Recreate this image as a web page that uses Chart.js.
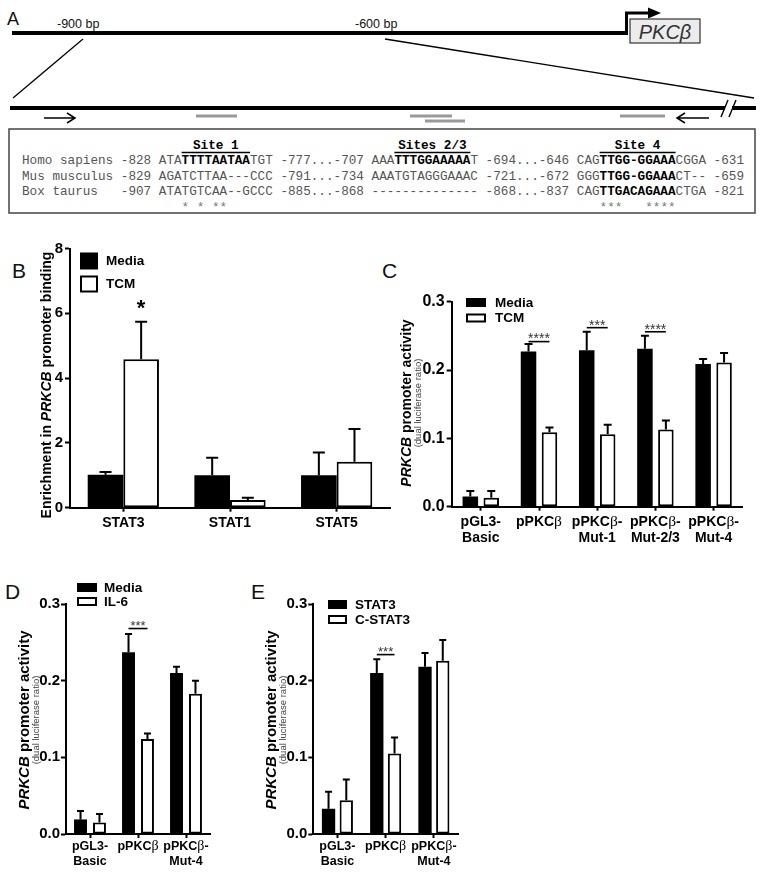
<!DOCTYPE html>
<html>
<head>
<meta charset="utf-8">
<script src="https://cdn.jsdelivr.net/npm/chart.js@4.4.1/dist/chart.umd.min.js"></script>
<style>
  body { margin: 0; background: #fff; }
  #fig { position: relative; width: 764px; height: 872px; overflow: hidden; font-family: 'Liberation Sans', Arial, sans-serif; }
  canvas { position: absolute; }
  .letter { position: absolute; font-size: 21px; line-height: 1; color: #111; }
</style>
</head>
<body>
<div id="fig">
  <svg id="panelA" width="764" height="222" style="position:absolute;left:0;top:0" xmlns="http://www.w3.org/2000/svg" font-family="'Liberation Sans', Arial, sans-serif">
    <text x="7" y="25" font-size="18" fill="#111">A</text>
    <line x1="12" y1="33" x2="628" y2="33" stroke="#000" stroke-width="4"/>
    <text x="57" y="28" font-size="12.5" fill="#111">-900 bp</text>
    <text x="355" y="28" font-size="12.5" fill="#111">-600 bp</text>
    <path d="M626.5,35 V13 H650" fill="none" stroke="#000" stroke-width="3"/>
    <polygon points="648,7.5 661,13 648,18.5" fill="#000"/>
    <rect x="630" y="19" width="70" height="24" fill="#ececec" stroke="#333" stroke-width="1.2"/>
    <text x="665" y="38.5" font-size="20" font-style="italic" text-anchor="middle" fill="#333">PKCβ</text>
    <line x1="83" y1="39" x2="13" y2="98" stroke="#000" stroke-width="1.3"/>
    <line x1="385" y1="39" x2="754" y2="98" stroke="#000" stroke-width="1.3"/>
    <line x1="10" y1="108" x2="725" y2="108" stroke="#000" stroke-width="4"/>
    <line x1="732" y1="108" x2="756" y2="108" stroke="#000" stroke-width="4"/>
    <line x1="721" y1="117" x2="728" y2="100" stroke="#000" stroke-width="1.4"/>
    <line x1="729" y1="117" x2="736" y2="100" stroke="#000" stroke-width="1.4"/>
    <!-- primer arrows -->
    <path d="M44,118 H75 M67,113 L75,118 L67,123" fill="none" stroke="#000" stroke-width="1.5"/>
    <path d="M709,118 H677 M685,113 L677,118 L685,123" fill="none" stroke="#000" stroke-width="1.5"/>
    <!-- binding sites -->
    <line x1="196" y1="116" x2="237" y2="116" stroke="#999" stroke-width="3"/>
    <line x1="410" y1="116" x2="452" y2="116" stroke="#999" stroke-width="3"/>
    <line x1="425" y1="121" x2="465" y2="121" stroke="#999" stroke-width="3"/>
    <line x1="620" y1="116" x2="665" y2="116" stroke="#999" stroke-width="3"/>
    <rect x="9" y="129" width="746" height="84" fill="none" stroke="#444" stroke-width="1.5"/>
    <g id="seqText" font-family="'Liberation Mono', monospace" font-size="12.67"></g>
  </svg>

  <div class="letter" style="left:12px;top:260px">B</div>
  <div class="letter" style="left:382px;top:260px">C</div>
  <div class="letter" style="left:5px;top:581px">D</div>
  <div class="letter" style="left:251px;top:581px">E</div>

  <canvas id="chartB" width="400" height="330" style="left:0px;top:235px;width:400px;height:330px"></canvas>
  <canvas id="chartC" width="384" height="275" style="left:380px;top:285px;width:384px;height:275px"></canvas>
  <canvas id="chartD" width="240" height="297" style="left:0px;top:575px;width:240px;height:297px"></canvas>
  <canvas id="chartE" width="230" height="297" style="left:250px;top:575px;width:230px;height:297px"></canvas>
</div>

<script>
// --- Panel A sequence alignment ---
const seqRows = [
    'Homo sapiens -828 ATA[TTTTAATAA]TGT -777...-707 AAA[TTTGGAAAAA]T -694...-646 CAG[TTGG-GGAAA]CGGA -631',
    'Mus musculus -829 AGATCTTAA---CCC -791...-734 AAATGTAGGGAAAC -721...-672 GGG[TTGG-GGAAA]CT-- -659',
    'Box taurus   -907 ATATGTCAA--GCCC -885...-868 -------------- -868...-837 CAG[TTGACAGAAA]CTGA -821'
];
const seqStars = ' '.repeat(21) + '* * **' + ' '.repeat(49) + '***   ****';
const siteNames = ['Site 1', 'Sites 2/3', 'Site 4'];
const siteCols = [[21, 30], [49, 59], [76, 86]];

// --- Panel B: ChIP enrichment ---
const bCategories = ['STAT3', 'STAT1', 'STAT5'];
const bMedia = [1.02, 1.0, 1.0];
const bMediaErr = [0.08, 0.54, 0.70];
const bTCM = [4.58, 0.24, 1.42];
const bTCMErr = [1.16, 0.07, 1.01];

// --- Panel C: promoter mutants, Media vs TCM ---
const cCategories = [['pGL3-', 'Basic'], ['pPKCβ'], ['pPKCβ-', 'Mut-1'], ['pPKCβ-', 'Mut-2/3'], ['pPKCβ-', 'Mut-4']];
const cMedia = [0.015, 0.227, 0.229, 0.231, 0.209];
const cMediaErr = [0.008, 0.011, 0.027, 0.019, 0.007];
const cTCM = [0.013, 0.109, 0.106, 0.113, 0.211];
const cTCMErr = [0.010, 0.007, 0.014, 0.013, 0.014];
const cSigAt = [1, 2, 3];
const cSigY = [0.2416, 0.262, 0.256];
const cSigMarks = ['****', '***', '****'];

// --- Panel D: Media vs IL-6 ---
const dCategories = [['pGL3-', 'Basic'], ['pPKCβ'], ['pPKCβ-', 'Mut-4']];
const dMedia = [0.019, 0.237, 0.210];
const dMediaErr = [0.011, 0.024, 0.008];
const dIL6 = [0.015, 0.124, 0.183];
const dIL6Err = [0.011, 0.007, 0.017];
const dSigAt = [1];
const dSigY = [0.268];
const dSigMarks = ['***'];

// --- Panel E: STAT3 vs C-STAT3 ---
const eCategories = [['pGL3-', 'Basic'], ['pPKCβ'], ['pPKCβ-', 'Mut-4']];
const eSTAT3 = [0.033, 0.210, 0.218];
const eSTAT3Err = [0.022, 0.018, 0.018];
const eCSTAT3 = [0.044, 0.105, 0.226];
const eCSTAT3Err = [0.027, 0.021, 0.027];
const eSigAt = [1];
const eSigY = [0.234];
const eSigMarks = ['***'];

const SANS = "'Liberation Sans', Arial, sans-serif";
const SERIF = "'Liberation Serif', 'Times New Roman', serif";

// ---------- panel A text ----------
function buildSequences() {
    const g = document.getElementById('seqText');
    const NS = 'http://www.w3.org/2000/svg';
    const cw = 7.6, x0 = 22;
    const addRun = (txt, col, y, bold, color) => {
        const t = document.createElementNS(NS, 'text');
        t.setAttribute('x', x0 + col * cw);
        t.setAttribute('y', y);
        t.setAttribute('fill', color);
        if (bold) t.setAttribute('font-weight', 'bold');
        t.textContent = txt;
        g.appendChild(t);
    };
    const addRow = (row, y, color) => {
        let col = 0, bold = false, run = '', start = 0, runBold = false;
        const flush = () => { if (run) addRun(run, start, y, runBold, runBold ? '#000' : color); run = ''; };
        for (const ch of row) {
            if (ch === '[') { flush(); bold = true; continue; }
            if (ch === ']') { flush(); bold = false; continue; }
            if (ch === ' ') { flush(); col++; continue; }
            if (!run) { start = col; runBold = bold; }
            run += ch;
            col++;
        }
        flush();
    };
    const rowY = [164, 179.5, 195];
    seqRows.forEach((r, i) => addRow(r, rowY[i], '#555'));
    addRow(seqStars, 211, '#777');
    siteNames.forEach((name, i) => {
        const [a, b] = siteCols[i];
        const t = document.createElementNS(NS, 'text');
        t.setAttribute('x', x0 + (a + b) / 2 * cw);
        t.setAttribute('y', 149);
        t.setAttribute('text-anchor', 'middle');
        t.setAttribute('font-weight', 'bold');
        t.textContent = name;
        g.appendChild(t);
        const l = document.createElementNS(NS, 'line');
        l.setAttribute('x1', x0 + a * cw); l.setAttribute('x2', x0 + b * cw);
        l.setAttribute('y1', 152.5); l.setAttribute('y2', 152.5);
        l.setAttribute('stroke', '#000'); l.setAttribute('stroke-width', '1.4');
        g.appendChild(l);
    });
}
buildSequences();

// ---------- helpers ----------
function drawRuns(ctx, runs, cx, cy) {
    let total = 0;
    runs.forEach(r => { ctx.font = r.font; r.w = ctx.measureText(r.t).width; total += r.w; });
    let x = cx - total / 2;
    ctx.textAlign = 'left';
    runs.forEach(r => { ctx.font = r.font; ctx.fillText(r.t, x, cy); x += r.w; });
}

function makePanel(p) {
    const extras = {
        id: 'extras_' + p.id,
        afterDatasetsDraw(chart) {
            const ctx = chart.ctx;
            const xs = chart.scales.x, ys = chart.scales.y;
            ctx.save();
            ctx.strokeStyle = '#000';
            ctx.fillStyle = '#000';

            // error bars (upper only)
            p.series.forEach((s, di) => {
                const meta = chart.getDatasetMeta(di);
                meta.data.forEach((bar, i) => {
                    const yTop = ys.getPixelForValue(s.data[i]);
                    const yErr = ys.getPixelForValue(s.data[i] + s.err[i]);
                    ctx.lineWidth = 2;
                    ctx.beginPath();
                    ctx.moveTo(bar.x, yTop);
                    ctx.lineTo(bar.x, yErr);
                    ctx.moveTo(bar.x - p.capW / 2, yErr);
                    ctx.lineTo(bar.x + p.capW / 2, yErr);
                    ctx.stroke();
                });
            });

            // significance marks
            const m0 = chart.getDatasetMeta(0), m1 = chart.getDatasetMeta(1);
            p.sig.at.forEach((i, k) => {
                const y = ys.getPixelForValue(p.sig.y[k]);
                if (p.sig.line) {
                    const xa = m0.data[i].x, xb = m1.data[i].x;
                    ctx.lineWidth = 1.6;
                    ctx.beginPath();
                    ctx.moveTo(xa, y);
                    ctx.lineTo(xb, y);
                    ctx.stroke();
                    ctx.fillStyle = '#333';
                    ctx.font = p.sig.size + 'px ' + SANS;
                    ctx.textAlign = 'center';
                    ctx.textBaseline = 'alphabetic';
                    ctx.fillText(p.sig.marks[k], (xa + xb) / 2, y - 6 + 0.56 * p.sig.size);
                } else {
                    ctx.fillStyle = '#000';
                    ctx.font = 'bold ' + p.sig.size + 'px ' + SANS;
                    ctx.textAlign = 'center';
                    ctx.textBaseline = 'alphabetic';
                    ctx.fillText(p.sig.marks[k], m1.data[i].x, y + 0.56 * p.sig.size);
                }
            });

            // legend
            const lg = p.legend;
            ctx.textBaseline = 'middle';
            p.series.forEach((s, di) => {
                const bx = lg.x - p.left, cy = lg.y + di * lg.dy - p.top;
                if (s.dark) {
                    ctx.fillStyle = '#000';
                    ctx.fillRect(bx, cy - lg.h / 2, lg.w, lg.h);
                } else {
                    ctx.lineWidth = 2;
                    ctx.strokeRect(bx + 1, cy - lg.h / 2 + 1, lg.w - 2, lg.h - 2);
                }
                ctx.fillStyle = '#000';
                ctx.font = 'bold ' + lg.size + 'px ' + SANS;
                ctx.textAlign = 'left';
                ctx.fillText(s.label, bx + lg.dx, cy + 0.5);
            });

            // x category labels (β set in a serif face)
            ctx.fillStyle = '#000';
            ctx.textBaseline = 'middle';
            p.labels.forEach((lab, i) => {
                const cx = xs.getPixelForValue(i);
                const lines = Array.isArray(lab) ? lab : [lab];
                lines.forEach((line, j) => {
                    const runs = line.split(/(β)/).filter(Boolean).map(t => ({
                        t, font: t === 'β' ? (p.xSize + 1.5) + 'px ' + SERIF : 'bold ' + p.xSize + 'px ' + SANS
                    }));
                    drawRuns(ctx, runs, cx, p.xLines[j] - p.top);
                });
            });

            // y title, rotated; x positions are baselines
            const tt = p.title;
            ctx.save();
            ctx.translate(tt.x - p.left, tt.cy - p.top);
            ctx.rotate(-Math.PI / 2);
            ctx.fillStyle = '#000';
            ctx.textBaseline = 'alphabetic';
            drawRuns(ctx, tt.parts.map(q => ({ t: q.t, font: q.style + ' ' + tt.size + 'px ' + SANS })), 0, 0);
            ctx.restore();
            if (tt.subX) {
                ctx.save();
                ctx.translate(tt.subX - p.left, tt.cy - p.top);
                ctx.rotate(-Math.PI / 2);
                ctx.fillStyle = '#444';
                ctx.textBaseline = 'alphabetic';
                ctx.textAlign = 'center';
                ctx.font = tt.subSize + 'px ' + SANS;
                ctx.fillText('(dual luciferase ratio)', 0, 0);
                ctx.restore();
            }
            ctx.restore();
        }
    };

    const a = p.area;
    return new Chart(document.getElementById(p.id), {
        type: 'bar',
        data: {
            labels: p.labels,
            datasets: p.series.map(s => ({
                label: s.label,
                data: s.data,
                backgroundColor: s.dark ? '#000' : '#fff',
                borderColor: '#000',
                borderWidth: s.dark ? 0 : 2,
                borderSkipped: false,
                categoryPercentage: p.catPct,
                barPercentage: p.barPct
            }))
        },
        options: {
            responsive: false,
            animation: false,
            events: [],
            layout: { padding: { left: 0, top: a.t - p.top, right: p.left + p.width - a.r, bottom: 0 } },
            plugins: { legend: { display: false }, tooltip: { enabled: false } },
            scales: {
                x: {
                    grid: { display: true, drawOnChartArea: false, offset: false, tickLength: 4, tickWidth: 2, tickColor: '#000' },
                    border: { display: true, color: '#000', width: 2 },
                    ticks: { color: 'rgba(0,0,0,0)', maxRotation: 0, minRotation: 0, autoSkip: false },
                    afterFit: s => { s.height = p.top + p.height - a.b; }
                },
                y: {
                    min: 0,
                    max: p.yMax,
                    grid: { display: true, drawOnChartArea: false, tickLength: 5, tickWidth: 2, tickColor: '#000' },
                    border: { display: true, color: '#000', width: 2 },
                    ticks: {
                        stepSize: p.yStep,
                        color: '#000',
                        padding: p.tickPad,
                        font: { family: SANS, size: p.tickSize, weight: 'bold' },
                        callback: v => Number(v).toFixed(p.yDec)
                    },
                    afterFit: s => { s.width = a.l - p.left; }
                }
            }
        },
        plugins: [extras]
    });
}

const promoterTitle = [
    { t: 'PRKCB', style: 'italic bold' },
    { t: ' promoter activity', style: 'bold' }
];

makePanel({
    id: 'chartB', left: 0, top: 235, width: 400, height: 330,
    area: { l: 70, r: 390, t: 248.5, b: 507.7 },
    labels: bCategories,
    series: [
        { label: 'Media', data: bMedia, err: bMediaErr, dark: true },
        { label: 'TCM', data: bTCM, err: bTCMErr, dark: false }
    ],
    yMax: 8, yStep: 2, yDec: 0, tickSize: 15, tickPad: 2,
    xSize: 14, xLines: [523.5],
    catPct: 0.668, barPct: 1.0, capW: 12,
    legend: { x: 80, y: 261, dy: 23, w: 18, h: 17, dx: 26, size: 13.5 },
    title: { x: 51, cy: 385, size: 14, parts: [
        { t: 'Enrichment in ', style: 'bold' },
        { t: 'PRKCB', style: 'italic bold' },
        { t: ' promoter binding', style: 'bold' }
    ] },
    sig: { at: [0], y: [6.32], marks: ['*'], line: false, size: 22 }
});

makePanel({
    id: 'chartC', left: 380, top: 285, width: 384, height: 275,
    area: { l: 451.7, r: 742.7, t: 301.7, b: 506.7 },
    labels: cCategories,
    series: [
        { label: 'Media', data: cMedia, err: cMediaErr, dark: true },
        { label: 'TCM', data: cTCM, err: cTCMErr, dark: false }
    ],
    yMax: 0.3, yStep: 0.1, yDec: 1, tickSize: 16, tickPad: 2,
    xSize: 14, xLines: [521.7, 537.7],
    catPct: 0.72, barPct: 0.74, capW: 8,
    legend: { x: 466, y: 302.5, dy: 15.5, w: 20, h: 9, dx: 29, size: 13.5 },
    title: { x: 411, cy: 403, size: 14, parts: promoterTitle, subX: 421, subSize: 9.5 },
    sig: { at: cSigAt, y: cSigY, marks: cSigMarks, line: true, size: 14 }
});

makePanel({
    id: 'chartD', left: 0, top: 575, width: 240, height: 297,
    area: { l: 66, r: 210, t: 604, b: 834 },
    labels: dCategories,
    series: [
        { label: 'Media', data: dMedia, err: dMediaErr, dark: true },
        { label: 'IL-6', data: dIL6, err: dIL6Err, dark: false }
    ],
    yMax: 0.3, yStep: 0.1, yDec: 1, tickSize: 15, tickPad: 1,
    xSize: 12.5, xLines: [846.7, 861.7],
    catPct: 0.79, barPct: 0.684, capW: 7,
    legend: { x: 77, y: 587.5, dy: 14, w: 20, h: 9, dx: 27, size: 13.5 },
    title: { x: 29, cy: 720, size: 15, parts: promoterTitle, subX: 39, subSize: 9.5 },
    sig: { at: dSigAt, y: dSigY, marks: dSigMarks, line: true, size: 13 }
});

makePanel({
    id: 'chartE', left: 250, top: 575, width: 230, height: 297,
    area: { l: 313.3, r: 458, t: 604, b: 834 },
    labels: eCategories,
    series: [
        { label: 'STAT3', data: eSTAT3, err: eSTAT3Err, dark: true },
        { label: 'C-STAT3', data: eCSTAT3, err: eCSTAT3Err, dark: false }
    ],
    yMax: 0.3, yStep: 0.1, yDec: 1, tickSize: 15, tickPad: 1,
    xSize: 12.5, xLines: [846.7, 861.7],
    catPct: 0.736, barPct: 0.75, capW: 7,
    legend: { x: 328, y: 604.5, dy: 15, w: 19, h: 9, dx: 27, size: 13.5 },
    title: { x: 276, cy: 720, size: 15, parts: promoterTitle, subX: 286, subSize: 9.5 },
    sig: { at: eSigAt, y: eSigY, marks: eSigMarks, line: true, size: 13 }
});
</script>
</body>
</html>
